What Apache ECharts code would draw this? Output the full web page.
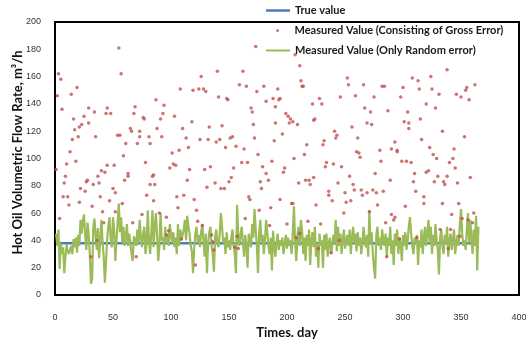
<!DOCTYPE html>
<html>
<head>
<meta charset="utf-8">
<script src="https://cdn.jsdelivr.net/npm/echarts@6/dist/echarts.min.js"></script>
<style>
html, body { margin: 0; padding: 0; background: #fff; }
#chart { width: 526px; height: 346px; }
</style>
</head>
<body>
<div id="chart"></div>
<script>
// x ticks / y ticks
var xTicks = [0, 50, 100, 150, 200, 250, 300, 350, 400];
var yTicks = [0, 20, 40, 60, 80, 100, 120, 140, 160, 180, 200];

var trueValue = 38;
var firstDay = 1, lastDay = 365;

// measured value, only random error (one value per day, day 1..365)
var randomValues = [
    45, 36, 48, 19, 38, 30, 35, 16, 28, 37,
    32, 30, 33, 36, 30, 41, 35, 42, 31, 44,
    36, 55, 45, 54, 59, 44, 33, 53, 45, 30,
    8, 12, 49, 56, 44, 33, 49, 27, 40, 55,
    39, 28, 9, 8, 41, 51, 57, 41, 35, 57,
    48, 25, 40, 53, 67, 46, 57, 38, 50, 36,
    42, 52, 36, 45, 38, 30, 25, 43, 40, 36,
    48, 38, 55, 42, 35, 45, 50, 30, 38, 62,
    40, 30, 45, 62, 35, 50, 60, 44, 25, 35,
    60, 40, 42, 33, 50, 38, 45, 36, 52, 44,
    38, 46, 35, 42, 30, 52, 36, 48, 40, 44,
    48, 55, 40, 58, 50, 45, 36, 32, 16, 34,
    45, 50, 38, 44, 35, 46, 52, 40, 28, 45,
    16, 38, 46, 50, 36, 30, 17, 42, 48, 38,
    35, 45, 60, 50, 38, 42, 30, 46, 35, 40,
    33, 42, 48, 36, 30, 16, 66, 42, 36, 45,
    50, 38, 28, 44, 36, 20, 45, 40, 35, 52,
    42, 63, 48, 36, 16, 45, 55, 38, 44, 30,
    40, 55, 46, 36, 30, 42, 18, 47, 35, 28,
    38, 45, 33, 40, 36, 42, 30, 38, 44, 34,
    42, 36, 40, 30, 46, 65, 38, 25, 44, 50,
    36, 55, 47, 30, 42, 25, 44, 36, 48, 22,
    40, 46, 35, 50, 28, 38, 20, 45, 36, 40,
    20, 44, 33, 45, 28, 38, 42, 30, 36, 44,
    38, 55, 32, 50, 36, 45, 30, 40, 48, 34,
    40, 44, 36, 48, 30, 42, 50, 38, 45, 32,
    46, 36, 42, 30, 38, 50, 40, 35, 44, 28,
    62, 38, 46, 30, 20, 12, 44, 50, 36, 42,
    33, 48, 40, 36, 45, 28, 42, 36, 50, 30,
    40, 22, 45, 36, 48, 30, 42, 38, 25, 44,
    36, 46, 33, 40, 50, 57, 45, 36, 30, 42,
    38, 44, 22, 40, 35, 48, 30, 42, 50, 36,
    45, 55, 38, 50, 30, 44, 36, 52, 40, 33,
    15, 42, 48, 36, 30, 44, 38, 50, 28, 40,
    45, 33, 40, 48, 30, 38, 44, 36, 52, 63,
    45, 36, 40, 33, 48, 60, 38, 55, 42, 30,
    48, 36, 58, 18, 50
];

// measured value with gross error: [day, value]
var grossPoints = [
    [1,92],[2,146],[3,162],[5,158],[4,56],[6,136],[7,72],[8,82],[9,87],[10,96],
    [11,72],[12,66],[13,105],[14,147],[15,114],[16,129],[17,121],[18,98],[19,152],[20,116],
    [21,123],[21,68],[22,78],[23,125],[25,131],[26,76],[27,83],[28,84],[29,137],[29,126],
    [31,28],[32,65],[33,81],[34,134],[35,116],[36,40],[37,87],[38,82],[39,72],[40,91],
    [41,61],[42,53],[43,90],[44,133],[45,137],[45,95],[47,69],[48,133],[50,78],[51,95],
    [52,75],[52,61],[54,117],[55,181],[56,117],[57,162],[58,67],[59,102],[60,84],[61,111],
    [63,87],[63,89],[65,122],[66,120],[67,53],[68,133],[69,138],[70,28],[71,111],[73,116],
    [73,120],[75,59],[76,130],[77,129],[78,97],[79,73],[81,116],[82,111],[82,81],[84,87],
    [85,69],[85,88],[86,81],[87,143],[88,122],[90,60],[91,129],[92,116],[93,133],[94,139],
    [96,57],[96,44],[98,47],[99,93],[101,104],[102,96],[103,131],[104,95],[105,72],[106,64],
    [107,106],[108,151],[109,41],[110,122],[111,73],[113,115],[114,84],[115,108],[116,92],[118,127],
    [119,150],[120,70],[121,22],[122,62],[123,54],[124,151],[125,114],[126,160],[127,51],[128,151],
    [129,92],[130,149],[131,79],[132,114],[133,123],[134,94],[135,44],[136,39],[137,33],[138,82],
    [139,112],[140,164],[141,145],[142,114],[143,78],[144,124],[146,78],[147,108],[148,144],[149,143],
    [150,83],[151,115],[152,86],[153,116],[154,93],[155,35],[156,109],[157,43],[158,34],[159,154],
    [161,97],[162,164],[163,107],[164,56],[165,153],[166,97],[167,72],[168,70],[169,137],[170,134],
    [171,125],[172,115],[173,182],[174,149],[175,103],[176,62],[177,83],[178,78],[179,94],[180,153],
    [182,142],[182,89],[184,84],[185,51],[186,64],[187,98],[188,144],[189,113],[190,138],[190,126],
    [192,151],[193,143],[194,70],[194,144],[196,118],[197,90],[198,93],[199,133],[200,52],[201,131],
    [202,126],[203,129],[204,67],[205,127],[205,67],[206,100],[207,176],[208,42],[209,125],[210,82],
    [211,45],[211,168],[212,157],[213,153],[214,153],[215,103],[216,84],[217,110],[218,54],[219,84],
    [220,81],[222,140],[223,86],[223,128],[224,129],[225,66],[227,34],[228,144],[229,52],[230,140],
    [231,110],[232,113],[233,94],[234,97],[236,76],[236,73],[238,31],[239,69],[240,96],[241,120],
    [242,115],[243,117],[244,82],[245,40],[246,145],[247,94],[249,60],[250,75],[251,68],[252,159],
    [253,154],[254,87],[255,69],[256,123],[257,81],[258,77],[259,146],[260,105],[261,115],[262,104],
    [263,101],[264,77],[265,73],[266,154],[267,137],[269,126],[269,75],[271,61],[272,134],[273,125],
    [274,77],[275,145],[276,89],[277,75],[278,66],[280,106],[281,98],[282,153],[283,76],[284,153],
    [285,53],[286,28],[287,135],[289,84],[290,107],[290,59],[292,55],[293,112],[293,57],[295,106],
    [295,105],[297,41],[298,145],[299,98],[300,152],[301,127],[302,65],[303,98],[304,134],[305,126],
    [305,122],[307,97],[308,159],[309,83],[310,89],[311,76],[312,42],[313,157],[314,151],[315,129],
    [316,114],[318,67],[318,72],[320,140],[320,90],[322,91],[323,108],[324,160],[325,151],[326,103],
    [327,83],[328,137],[329,100],[330,87],[331,147],[332,48],[334,67],[334,120],[335,83],[336,81],
    [338,87],[338,165],[339,34],[340,97],[341,48],[342,59],[343,100],[344,107],[345,93],[346,147],
    [347,82],[348,67],[349,43],[350,145],[351,56],[353,116],[354,150],[355,152],[356,55],[357,143],
    [358,86],[360,53],[361,60],[362,154]
];

var randomLine = [];
for (var i = 0; i < randomValues.length; i++) {
    randomLine.push([firstDay + i, randomValues[i]]);
}
var trueLine = [[firstDay, trueValue], [lastDay, trueValue]];

var myChart = echarts.init(document.getElementById('chart'), null, { renderer: 'canvas' });

var legendText = { fontFamily: 'Lato', fontSize: 11, fontWeight: 'bold', color: '#1a1a1a' };

// one legend per row so each icon can have its own size
function legendAt(name, icon, left, top, h) {
    return {
        data: [{ name: name, icon: icon }], left: left, top: top, padding: 0,
        itemWidth: 24, itemHeight: h, itemGap: 0, textStyle: legendText, selectedMode: false
    };
}

var option = {
    animation: false,
    backgroundColor: '#fff',
    grid: {
        left: 55, right: 7, top: 22, bottom: 51, outerBoundsMode: 'none',
        show: true, borderColor: '#000', borderWidth: 2
    },
    legend: [
        legendAt('True value', 'rect', 266, 5, 2.5),
        legendAt('Measured Value (Consisting of Gross Error)', 'circle', 276, 25, 3),
        legendAt('Measured Value (Only Random error)', 'rect', 266, 45, 2)
    ],
    xAxis: {
        type: 'value', min: xTicks[0], max: xTicks[xTicks.length - 1], interval: 50,
        name: 'Times. day', nameLocation: 'middle', nameGap: 31, nameMoveOverlap: false,
        nameTextStyle: { fontFamily: 'Lato', fontSize: 13, fontWeight: 'bold', color: '#111' },
        axisLine: { show: false }, axisTick: { show: false }, splitLine: { show: false },
        axisLabel: { margin: 18, fontFamily: 'Liberation Sans', fontSize: 9, color: '#333' }
    },
    yAxis: {
        type: 'value', min: yTicks[0], max: yTicks[yTicks.length - 1], interval: 20,
        name: 'Hot Oil Volumetric Flow Rate, m³/h', nameLocation: 'middle', nameGap: 31, nameMoveOverlap: false,
        nameTextStyle: { fontFamily: 'Lato', fontSize: 13, fontWeight: 'bold', color: '#111', padding: [0, 0, 0, 12] },
        axisLine: { show: false }, axisTick: { show: false }, splitLine: { show: false },
        axisLabel: { margin: 14, fontFamily: 'Liberation Sans', fontSize: 9, color: '#333' }
    },
    series: [
        {
            name: 'True value', type: 'line', data: trueLine, symbol: 'none', z: 2,
            lineStyle: { color: '#4A7EBB', width: 2.5 }, itemStyle: { color: '#4A7EBB' }
        },
        {
            name: 'Measured Value (Consisting of Gross Error)', type: 'scatter', data: grossPoints,
            symbol: 'circle', symbolSize: 3.5, z: 4, itemStyle: { color: '#C0504D' }
        },
        {
            name: 'Measured Value (Only Random error)', type: 'line', data: randomLine, symbol: 'none', z: 3,
            lineStyle: { color: '#9BBB59', width: 2.2 }, itemStyle: { color: '#9BBB59' }
        }
    ]
};

myChart.setOption(option);
</script>
</body>
</html>
